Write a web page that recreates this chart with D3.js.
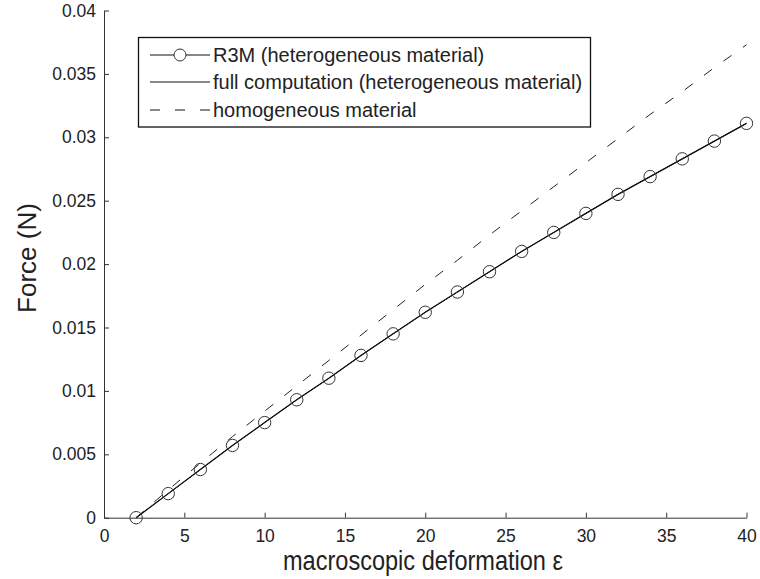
<!DOCTYPE html>
<html><head><meta charset="utf-8">
<script src="https://cdn.jsdelivr.net/npm/d3@7"></script>
<style>
html,body{margin:0;padding:0;background:#fff;}
text{font-family:"Liberation Sans",Arial,Helvetica,sans-serif;fill:#222;}
</style></head>
<body><svg id="c" width="760" height="579"></svg>
<script>
// ---- data ----
const strain = [2,4,6,8,10,12,14,16,18,20,22,24,26,28,30,32,34,36,38,40];
const r3mForce = [0,0.0019,0.0038,0.0057,0.0075,0.0093,0.0110,0.0128,0.0145,0.0162,0.0178,0.0194,0.0210,0.0225,0.0240,0.0255,0.0269,0.0283,0.0297,0.0311];
const fullForce = [0,0.0019,0.0038,0.0057,0.0075,0.0093,0.0110,0.0128,0.0145,0.0162,0.0178,0.0194,0.0210,0.0225,0.0240,0.0255,0.0269,0.0283,0.0297,0.0311];
const homForce = [0,0.0022,0.0043,0.0064,0.0084,0.0104,0.0124,0.0144,0.0164,0.0184,0.0203,0.0223,0.0242,0.0261,0.0280,0.0299,0.0318,0.0336,0.0355,0.0373];
const xTicks = [0,5,10,15,20,25,30,35,40];
const yTicks = [0,0.005,0.01,0.015,0.02,0.025,0.03,0.035,0.04];
const yTickLabels = ["0","0.005","0.01","0.015","0.02","0.025","0.03","0.035","0.04"];
const legendLabels = ["R3M (heterogeneous material)","full computation (heterogeneous material)","homogeneous material"];
const xTitle = "macroscopic deformation ε";
const yTitle = "Force (N)";

const svg = d3.select("#c");
const x = d3.scaleLinear().domain([0,40]).range([104,746.5]);
const y = d3.scaleLinear().domain([0,0.04]).range([517.7,10.5]);
const axisColor = "#333";

// axes
const gx = svg.append("g").attr("transform",`translate(0,${y(0)})`)
  .call(d3.axisBottom(x).tickValues(xTicks).tickSizeInner(-5).tickSizeOuter(0).tickPadding(12));
const gy = svg.append("g").attr("transform",`translate(${x(0)},0)`)
  .call(d3.axisLeft(y).tickValues(yTicks).tickFormat((d,i)=>yTickLabels[i]).tickSizeInner(-5).tickSizeOuter(0).tickPadding(8));
[gx,gy].forEach(g=>{
  g.select(".domain").attr("stroke",axisColor).attr("stroke-width",1);
  g.selectAll(".tick line").attr("stroke",axisColor);
  g.selectAll(".tick text").attr("fill","#222").style("font-size","17.5px").style("font-family",'"Liberation Sans",Arial,sans-serif');
});

// lines
const line = (vals)=>d3.line().x((d,i)=>x(strain[i])).y((d)=>y(d))(vals);
svg.append("path").attr("d",line(homForce)).attr("fill","none").attr("stroke","#222").attr("stroke-width",1).attr("stroke-dasharray","10,14");
svg.append("path").attr("d",line(fullForce)).attr("fill","none").attr("stroke","#111").attr("stroke-width",1.2);
svg.append("path").attr("d",line(r3mForce)).attr("fill","none").attr("stroke","#111").attr("stroke-width",1);
svg.append("g").selectAll("circle").data(r3mForce).join("circle")
  .attr("cx",(d,i)=>x(strain[i])).attr("cy",d=>y(d)).attr("r",6.2)
  .attr("fill","none").attr("stroke","#333").attr("stroke-width",1);

// axis titles
svg.append("text").attr("x",423).attr("y",570).attr("text-anchor","middle")
  .attr("textLength",280).attr("lengthAdjust","spacingAndGlyphs")
  .style("font-size","27px").text(xTitle);
svg.append("text").attr("transform","translate(36,258) rotate(-90)").attr("text-anchor","middle")
  .style("font-size","26px").text(yTitle);

// legend
const lg = svg.append("g");
lg.append("rect").attr("x",138.5).attr("y",37.5).attr("width",452).attr("height",89.5)
  .attr("fill","#fff").attr("stroke","#111").attr("stroke-width",1.3);
const rowsY = [55,82,110];
legendLabels.forEach((t,i)=>{
  const ly = rowsY[i];
  const l = lg.append("line").attr("x1",150).attr("x2",210).attr("y1",ly).attr("y2",ly)
    .attr("stroke","#111").attr("stroke-width",1);
  if(i===2) l.attr("stroke-dasharray","10,15");
  if(i===0) lg.append("circle").attr("cx",180).attr("cy",ly).attr("r",6).attr("fill","#fff").attr("stroke","#333");
  lg.append("text").attr("x",213).attr("y",ly+7).style("font-size","20px").text(t);
});
</script></body></html>
